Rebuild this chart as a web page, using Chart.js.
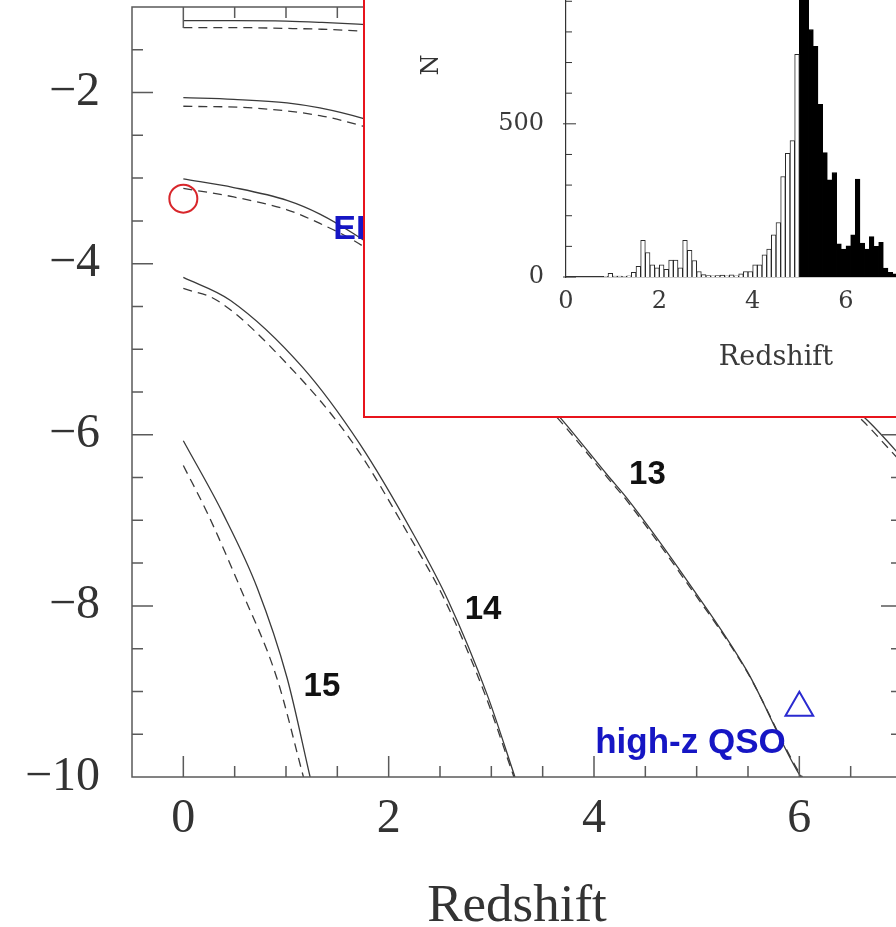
<!DOCTYPE html>
<html>
<head>
<meta charset="utf-8">
<script src="https://cdn.jsdelivr.net/npm/chart.js@4.4.1/dist/chart.umd.min.js"></script>
<style>
  html, body { margin: 0; padding: 0; background: #fff; overflow: hidden; }
  #frame { position: relative; width: 896px; height: 927px; overflow: hidden; background: #fff; }
  #mainChart { position: absolute; left: 0; top: 0; }
  #inset {
    position: absolute; left: 363px; top: -82px; width: 660px; height: 500px;
    box-sizing: border-box; border: 2px solid #e8141c; background: #fff;
  }
  #histChart { display: block; }
</style>
</head>
<body>
<div id="frame">
  <canvas id="mainChart" width="912" height="927"></canvas>
  <div id="inset"><canvas id="histChart" width="656" height="496"></canvas></div>
</div>
<script>
// ---- main panel: tick labels ----
const xTicks = [0, 2, 4, 6];
const yTicks = [-10, -8, -6, -4, -2];
const xMinorTicks = [0, 0.5, 1, 1.5, 2, 2.5, 3, 3.5, 4, 4.5, 5, 5.5, 6, 6.5];
const yMinorTicks = [-9.5, -9, -8.5, -8, -7.5, -7, -6.5, -6, -5.5, -5, -4.5, -4, -3.5, -3, -2.5, -2, -1.5];

// ---- main panel: curves [redshift, value], solid and dashed per mass ----
const m11Solid = [[0, -1.16], [0.5, -1.16], [1.0, -1.165], [1.35, -1.18], [1.7, -1.2], [2.5, -1.26], [3.5, -1.38], [4.5, -1.55], [5.5, -1.78], [7, -2.2]];
const m11Dashed = [[0, -1.24], [0.5, -1.24], [1.0, -1.25], [1.35, -1.26], [1.7, -1.28], [2.5, -1.34], [3.5, -1.46], [4.5, -1.63], [5.5, -1.86], [7, -2.28]];
const m12Solid = [[0, -2.06], [0.49, -2.08], [1.01, -2.12], [1.33, -2.18], [1.74, -2.3], [2.5, -2.62], [3.5, -3.17], [4.5, -3.84], [5.5, -4.62], [6.67, -5.84], [6.95, -6.2], [7, -6.27]];
const m12Dashed = [[0, -2.16], [0.68, -2.18], [1.33, -2.27], [1.74, -2.39], [2.5, -2.69], [3.5, -3.23], [4.5, -3.89], [5.5, -4.66], [6.62, -5.84], [6.9, -6.2], [7, -6.33]];
const m13Solid = [[0, -3.01], [0.49, -3.11], [1.01, -3.26], [1.33, -3.42], [1.66, -3.65], [2.2, -4.1], [2.8, -4.7], [3.3, -5.3], [3.7, -5.84], [4.13, -6.47], [4.32, -6.74], [4.91, -7.71], [5.49, -8.76], [6.0, -9.97], [6.02, -10]];
const m13Dashed = [[0, -3.12], [0.49, -3.22], [1.01, -3.37], [1.33, -3.53], [1.66, -3.73], [2.2, -4.17], [2.8, -4.76], [3.3, -5.35], [3.7, -5.88], [4.13, -6.5], [4.32, -6.77], [4.91, -7.74], [5.49, -8.77], [6.0, -9.95], [6.03, -10]];
const m14Solid = [[0, -4.16], [0.46, -4.43], [1.16, -5.21], [1.72, -6.11], [2.24, -7.16], [2.58, -7.94], [2.96, -9.04], [3.23, -10]];
const m14Dashed = [[0, -4.29], [0.33, -4.43], [1.04, -5.21], [1.66, -6.11], [2.19, -7.16], [2.55, -7.94], [2.94, -9.04], [3.22, -10]];
const m15Solid = [[0, -6.07], [0.39, -6.93], [0.72, -7.79], [1.01, -8.84], [1.235, -10]];
const m15Dashed = [[0, -6.36], [0.24, -6.93], [0.555, -7.79], [0.91, -8.84], [1.17, -10]];

// ---- main panel: markers and labels ----
const circlePoint = [{ x: 0, y: -3.24 }];
const trianglePoint = [{ x: 6.0, y: -9.19 }];
const massLabels = ['13', '14', '15'];
const massLabelZ = [4.52, 2.92, 1.35];
const massLabelY = [-6.47, -8.05, -8.95];
const sampleLabels = ['high-z QSO', 'ERO'];
const sampleLabelZ = [4.94, 1.46];
const sampleLabelY = [-9.72, -3.71];

// ---- inset histogram: counts in redshift bins of 0.1 ----
const histBinCenters = [
  0.05, 0.15, 0.25, 0.35, 0.45, 0.55, 0.65, 0.75, 0.85, 0.95,
  1.05, 1.15, 1.25, 1.35, 1.45, 1.55, 1.65, 1.75, 1.85, 1.95,
  2.05, 2.15, 2.25, 2.35, 2.45, 2.55, 2.65, 2.75, 2.85, 2.95,
  3.05, 3.15, 3.25, 3.35, 3.45, 3.55, 3.65, 3.75, 3.85, 3.95,
  4.05, 4.15, 4.25, 4.35, 4.45, 4.55, 4.65, 4.75, 4.85, 4.95,
  5.05, 5.15, 5.25, 5.35, 5.45, 5.55, 5.65, 5.75, 5.85, 5.95,
  6.05, 6.15, 6.25, 6.35, 6.45, 6.55, 6.65, 6.75, 6.85, 6.95,
  7.05, 7.15, 7.25, 7.35, 7.45
];
const histCounts = [
  0, 0, 0, 0, 0, 0, 0, 0, 2, 12,
  3, 3, 2, 4, 15, 35, 120, 80, 40, 30,
  40, 25, 55, 55, 30, 120, 87, 54, 18, 8,
  5, 4, 5, 6, 4, 7, 4, 10, 18, 18,
  40, 40, 72, 91, 138, 178, 328, 404, 445, 727,
  1060, 960, 808, 753, 564, 406, 317, 341, 108, 91,
  102, 138, 320, 111, 91, 132, 100, 113, 29, 15,
  10, 6, 4, 3, 2
];
const histSplitZ = 5.0;
const histXTicks = [0, 2, 4, 6, 8];
const histYTicks = [0, 500, 1000];
const histYMinorTicks = [0, 100, 200, 300, 400, 500, 600, 700, 800, 900, 1000, 1100];

const lineGrey = '#3a3a3a';
const axisGrey = '#5a5a5a';
const labelBlue = '#1616c4';

const toPoints = (pairs) => pairs.map(([x, y]) => ({ x, y }));
const minusLabel = (v) => (v < 0 ? '\u2212' + Math.abs(v) : String(v));

// keep the plot frame exactly where the original one is
const fixWidth = (w) => (scale) => {
    scale.width = w;
    scale.paddingTop = 0;
    scale.paddingBottom = 0;
};
const fixHeight = (h) => (scale) => {
    scale.height = h;
    scale.paddingLeft = 0;
    scale.paddingRight = 0;
};

// inward ticks on all four sides plus the closed frame
const frameTicks = {
    id: 'frameTicks',
    afterDatasetsDraw(chart, args, opts) {
        const { ctx, chartArea: a, scales: { x, y } } = chart;
        ctx.save();
        ctx.strokeStyle = opts.color;
        ctx.lineWidth = opts.width;
        ctx.strokeRect(a.left, a.top, a.right - a.left, a.bottom - a.top);
        ctx.beginPath();
        for (const v of opts.xMinor) {
            const px = x.getPixelForValue(v);
            const len = opts.xMajor.includes(v) ? opts.major : opts.minor;
            ctx.moveTo(px, a.bottom);
            ctx.lineTo(px, a.bottom - len);
            ctx.moveTo(px, a.top);
            ctx.lineTo(px, a.top + len);
        }
        for (const v of opts.yMinor) {
            const py = y.getPixelForValue(v);
            const len = opts.yMajor.includes(v) ? opts.major : opts.minor;
            ctx.moveTo(a.left, py);
            ctx.lineTo(a.left + len, py);
            ctx.moveTo(a.right, py);
            ctx.lineTo(a.right - len, py);
        }
        ctx.stroke();
        ctx.restore();
    },
};

// free text placed in data coordinates
const textMarks = {
    id: 'textMarks',
    afterDatasetsDraw(chart, args, opts) {
        const { ctx, scales: { x, y } } = chart;
        ctx.save();
        for (const item of opts.items) {
            ctx.font = item.font;
            ctx.fillStyle = item.color;
            ctx.textAlign = item.align || 'center';
            ctx.textBaseline = item.baseline || 'middle';
            const px = x.getPixelForValue(item.x);
            const py = y.getPixelForValue(item.y);
            if (item.rotate) {
                ctx.save();
                ctx.translate(px, py);
                ctx.rotate(item.rotate);
                ctx.fillText(item.text, 0, 0);
                ctx.restore();
            } else {
                ctx.fillText(item.text, px, py);
            }
        }
        ctx.restore();
    },
};

const curvePairs = [
    [m11Solid, m11Dashed],
    [m12Solid, m12Dashed],
    [m13Solid, m13Dashed],
    [m14Solid, m14Dashed],
    [m15Solid, m15Dashed],
];

const curveDatasets = [];
curvePairs.forEach(([solid, dashed]) => {
    curveDatasets.push({
        data: toPoints(solid),
        showLine: true,
        borderColor: lineGrey,
        borderWidth: 1.3,
        pointRadius: 0,
        cubicInterpolationMode: 'monotone',
    });
    curveDatasets.push({
        data: toPoints(dashed),
        showLine: true,
        borderColor: lineGrey,
        borderWidth: 1.3,
        borderDash: [9, 6],
        pointRadius: 0,
        cubicInterpolationMode: 'monotone',
    });
});

const mainTextItems = [];
massLabels.forEach((text, i) => {
    mainTextItems.push({ text, x: massLabelZ[i], y: massLabelY[i], font: 'bold 33px "Liberation Sans", Arial, sans-serif', color: '#111' });
});
mainTextItems.push({ text: sampleLabels[0], x: sampleLabelZ[0], y: sampleLabelY[0], font: 'bold 35px "Liberation Sans", Arial, sans-serif', color: labelBlue, baseline: 'alphabetic' });
mainTextItems.push({ text: sampleLabels[1], x: sampleLabelZ[1], y: sampleLabelY[1], font: 'bold 34px "Liberation Sans", Arial, sans-serif', color: labelBlue, align: 'left', baseline: 'alphabetic' });

new Chart(document.getElementById('mainChart'), {
    type: 'scatter',
    data: {
        datasets: [
            ...curveDatasets,
            {
                data: circlePoint,
                pointStyle: 'circle',
                pointRadius: 14,
                borderColor: '#d8262b',
                borderWidth: 2,
                backgroundColor: 'rgba(0,0,0,0)',
            },
            {
                data: trianglePoint,
                pointStyle: 'triangle',
                pointRadius: 16,
                borderColor: '#2a2ad0',
                borderWidth: 2,
                backgroundColor: 'rgba(0,0,0,0)',
            },
        ],
    },
    options: {
        responsive: false,
        animation: false,
        devicePixelRatio: 1,
        layout: { autoPadding: false, padding: { top: 7, right: 10, bottom: 0, left: 0 } },
        plugins: {
            legend: { display: false },
            tooltip: { enabled: false },
            frameTicks: {
                color: axisGrey, width: 1.5, major: 21, minor: 11,
                xMajor: xTicks, xMinor: xMinorTicks, yMajor: yTicks, yMinor: yMinorTicks,
            },
            textMarks: { items: mainTextItems },
        },
        scales: {
            x: {
                type: 'linear',
                min: -0.5,
                max: 7,
                afterBuildTicks: (scale) => { scale.ticks = xTicks.map((value) => ({ value })); },
                afterFit: fixHeight(150),
                grid: { display: false, drawTicks: false },
                border: { display: false },
                ticks: {
                    padding: 14, maxRotation: 0, autoSkip: false, color: '#333',
                    font: { family: '"Liberation Serif", "DejaVu Serif", serif', size: 48 },
                },
                title: {
                    display: true, text: 'Redshift', color: '#333',
                    font: { family: '"Liberation Serif", "DejaVu Serif", serif', size: 53, lineHeight: 0.85 },
                    padding: { top: 0, bottom: -3 },
                },
            },
            y: {
                type: 'linear',
                min: -10,
                max: -1,
                afterBuildTicks: (scale) => { scale.ticks = yTicks.map((value) => ({ value })); },
                afterFit: fixWidth(132),
                grid: { display: false, drawTicks: false },
                border: { display: false },
                ticks: {
                    padding: 32, autoSkip: false, color: '#333',
                    font: { family: '"Liberation Serif", "DejaVu Serif", serif', size: 48 },
                    callback: minusLabel,
                },
            },
        },
    },
    plugins: [frameTicks, textMarks],
});

// ---- inset histogram ----
const lowBins = [];
const highBins = [];
histBinCenters.forEach((z, i) => {
    (z < histSplitZ ? lowBins : highBins).push({ x: z, y: histCounts[i] });
});

const histAxisTicks = {
    id: 'histAxisTicks',
    afterDatasetsDraw(chart, args, opts) {
        const { ctx, chartArea: a, scales: { y } } = chart;
        ctx.save();
        ctx.strokeStyle = opts.color;
        ctx.lineWidth = 1;
        ctx.beginPath();
        for (const v of opts.minor) {
            const py = y.getPixelForValue(v);
            const major = opts.major.includes(v);
            ctx.moveTo(a.left - (major ? 3 : 0), py);
            ctx.lineTo(a.left + (major ? 10 : 6), py);
        }
        ctx.stroke();
        ctx.restore();
    },
};

new Chart(document.getElementById('histChart'), {
    type: 'bar',
    data: {
        datasets: [
            {
                data: lowBins,
                backgroundColor: '#ffffff',
                borderColor: '#2a2a2a',
                borderWidth: 1,
                barPercentage: 1,
                categoryPercentage: 1,
                grouped: false,
            },
            {
                data: highBins,
                backgroundColor: '#000000',
                borderColor: '#000000',
                borderWidth: 1,
                barPercentage: 1,
                categoryPercentage: 1,
                grouped: false,
            },
        ],
    },
    options: {
        responsive: false,
        animation: false,
        devicePixelRatio: 1,
        layout: { autoPadding: false, padding: { top: 20, right: 35, bottom: 0, left: 0 } },
        plugins: {
            legend: { display: false },
            tooltip: { enabled: false },
            histAxisTicks: { color: '#333', major: histYTicks, minor: histYMinorTicks },
            textMarks: {
                items: [{
                    text: 'N', x: -2.87, y: 692, rotate: -Math.PI / 2,
                    font: '24px "DejaVu Serif", serif', color: '#333',
                }],
            },
        },
        scales: {
            x: {
                type: 'linear',
                offset: false,
                min: 0,
                max: 9,
                afterBuildTicks: (scale) => { scale.ticks = histXTicks.map((value) => ({ value })); },
                afterFit: fixHeight(139),
                grid: { display: false, drawTicks: false, offset: false },
                border: { display: true, color: '#333', width: 1.2 },
                ticks: {
                    padding: 10, maxRotation: 0, autoSkip: false, color: '#3a3a3a',
                    font: { family: '"DejaVu Serif", serif', size: 24 },
                },
                title: {
                    display: true, text: 'Redshift', color: '#3a3a3a',
                    font: { family: '"DejaVu Serif", serif', size: 27, lineHeight: 1 },
                    padding: { top: 0, bottom: 45 },
                },
            },
            y: {
                type: 'linear',
                min: 0,
                max: 1100,
                afterBuildTicks: (scale) => { scale.ticks = histYTicks.map((value) => ({ value })); },
                afterFit: fixWidth(201),
                grid: { display: false, drawTicks: false },
                border: { display: true, color: '#333', width: 1.2 },
                ticks: {
                    padding: 22, autoSkip: false, color: '#3a3a3a',
                    font: { family: '"DejaVu Serif", serif', size: 24 },
                },
            },
        },
    },
    plugins: [histAxisTicks, textMarks],
});
</script>
</body>
</html>
